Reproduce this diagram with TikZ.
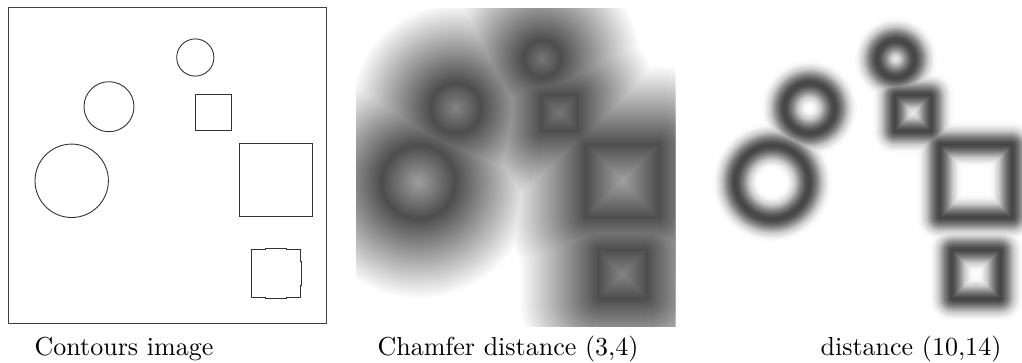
\documentclass[tikz,border=0pt]{standalone}
\usepackage{tikz}
\usepackage{graphicx}
% chamfer (3,4) panel: circle fields
\pgfdeclareradialshading{cBa}{\pgfpointorigin}{color(0bp)=(black!53.8); color(18.5bp)=(black!70); color(98.5bp)=(white)}
\pgfdeclareradialshading{cBb}{\pgfpointorigin}{color(0bp)=(black!48.1); color(25bp)=(black!70); color(105bp)=(white)}
\pgfdeclareradialshading{cBc}{\pgfpointorigin}{color(0bp)=(black!37.9); color(36.7bp)=(black!70); color(116.7bp)=(white)}
% distance (10,14) panel: circle fields
\pgfdeclareradialshading{cCa}{\pgfpointorigin}{color(0bp)=(black!7); color(4.5bp)=(black!20); color(10.5bp)=(black!50); color(15.5bp)=(black!69); color(18.5bp)=(black!73); color(21.5bp)=(black!69); color(26.5bp)=(black!50); color(32.5bp)=(black!20); color(38.5bp)=(black!3); color(42.5bp)=(white)}
\pgfdeclareradialshading{cCb}{\pgfpointorigin}{color(0bp)=(white); color(1bp)=(white); color(5bp)=(black!3); color(11bp)=(black!20); color(17bp)=(black!50); color(22bp)=(black!69); color(25bp)=(black!73); color(28bp)=(black!69); color(33bp)=(black!50); color(39bp)=(black!20); color(45bp)=(black!3); color(49bp)=(white)}
\pgfdeclareradialshading{cCc}{\pgfpointorigin}{color(0bp)=(white); color(12.7bp)=(white); color(16.7bp)=(black!3); color(22.7bp)=(black!20); color(28.7bp)=(black!50); color(33.7bp)=(black!69); color(36.7bp)=(black!73); color(39.7bp)=(black!69); color(44.7bp)=(black!50); color(50.7bp)=(black!20); color(56.7bp)=(black!3); color(60.7bp)=(white)}
\newcommand\setvB[1]{\pgfmathsetmacro\v{max(0,70-0.875*(#1))}}
\newcommand\setvC[1]{\pgfmathsetmacro\v{((#1)<3) ? (73-4*(#1)/3) : (((#1)<8) ? (69-3.8*((#1)-3)) : (((#1)<14) ? (50-5*((#1)-8)) : (((#1)<20) ? (20-17*((#1)-14)/6) : (((#1)<24) ? (3-0.75*((#1)-20)) : 0))))}}
% square distance field: #1 cx, #2 cy, #3 half size, #4 setter, #5 outer list, #6 step
\newcommand\sqfield[6]{%
  \foreach \d in {#5}{%
    #4{\d}%
    \fill[black!\v,even odd rule] [rounded corners=\d bp] ({#1-#3-\d},{#2-#3-\d}) rectangle ({#1+#3+\d},{#2+#3+\d}) [sharp corners] ({#1-#3},{#2-#3}) rectangle ({#1+#3},{#2+#3});
  }%
  \pgfmathsetmacro\nmax{floor((#3)/(#6))*(#6)}%
  \foreach \d in {#6,...,\nmax}{%
    #4{\d}%
    \fill[black!\v,even odd rule] ({#1-#3},{#2-#3}) rectangle ({#1+#3},{#2+#3}) ({#1-#3+\d},{#2-#3+\d}) rectangle ({#1+#3-\d},{#2+#3-\d});
  }%
  #4{#3}%
  \fill[black!\v] ({#1-#3},{#2-#3}) rectangle ({#1+#3},{#2+#3});
  #4{0}%
  \draw[black!\v,line width=1bp] ({#1-#3},{#2-#3}) rectangle ({#1+#3},{#2+#3});
}
\newcommand\captext[1]{\scalebox{2.61}{\fontsize{10}{12}\selectfont #1}}
\tikzset{
  contour/.style={draw=black!80,line width=0.9bp},
  frame/.style={draw=black!75,line width=1bp},
  caption/.style={anchor=base,inner sep=0pt},
  fieldnode/.style={inner sep=0pt,outer sep=0pt}
}
\begin{document}
\begin{tikzpicture}[x=1bp,y=-1bp]
\fill[white] (0,0) rectangle (1022,362);
\useasboundingbox (0,0) rectangle (1022,362);
% ---------- panel 1: contours ----------
\draw[frame] (8,7) rectangle (326,323);
\draw[contour] (195.3,57.5) circle (18.6);
\draw[contour] (109,106.7) circle (25);
\draw[contour] (71.7,180.8) circle (36.7);
\draw[contour] (195,94.3) rectangle (231,130);
\draw[contour] (239.3,143.3) rectangle (312.3,216.7);
\draw[contour] (251.7,249.3) -- (265,249.3) -- (265,248.5) -- (286.7,248.5) -- (286.7,249.3) -- (300.7,249.3)
  -- (300.7,261.7) -- (301.4,261.7) -- (301.4,285) -- (300.7,285) -- (300.7,297.7)
  -- (286.7,297.7) -- (286.7,298.5) -- (265,298.5) -- (265,297.7) -- (251.7,297.7)
  -- (251.7,285) -- (251,285) -- (251,261.7) -- (251.7,261.7) -- cycle;
\node[caption] (capA) at (124,355) {\captext{Contours image}};
% ---------- panel 2: chamfer distance (3,4) ----------
\begin{scope}
\clip (356,8) rectangle (675,326);
\begin{scope}[blend mode=darken]
\node[fieldnode] (fBa) at (541.8,58.5) {\pgfuseshading{cBa}};
\node[fieldnode] (fBb) at (455.5,107.7) {\pgfuseshading{cBb}};
\node[fieldnode] (fBc) at (418.2,181.8) {\pgfuseshading{cBc}};
\sqfield{559.5}{113.2}{18}{\setvB}{1,...,80}{1}
\sqfield{622.3}{181}{36.5}{\setvB}{1,...,80}{1}
\sqfield{622.7}{274.5}{24.3}{\setvB}{1,...,80}{1}
\end{scope}
\end{scope}
\node[caption] (capB) at (508,355) {\captext{Chamfer distance (3,4)}};
% ---------- panel 3: distance (10,14) ----------
\begin{scope}
\clip (708,8) rectangle (1022,326);
\begin{scope}[blend mode=darken]
\node[fieldnode] (fCa) at (895.3,58.5) {\pgfuseshading{cCa}};
\node[fieldnode] (fCb) at (809,107.7) {\pgfuseshading{cCb}};
\node[fieldnode] (fCc) at (771.7,181.8) {\pgfuseshading{cCc}};
\sqfield{913}{113.2}{18}{\setvC}{0.5,1,...,24}{0.5}
\sqfield{975.8}{181}{36.5}{\setvC}{0.5,1,...,24}{0.5}
\sqfield{976.2}{274.5}{24.3}{\setvC}{0.5,1,...,24}{0.5}
\end{scope}
\end{scope}
\node[caption] (capC) at (911,355) {\captext{distance (10,14)}};
\end{tikzpicture}
\end{document}
